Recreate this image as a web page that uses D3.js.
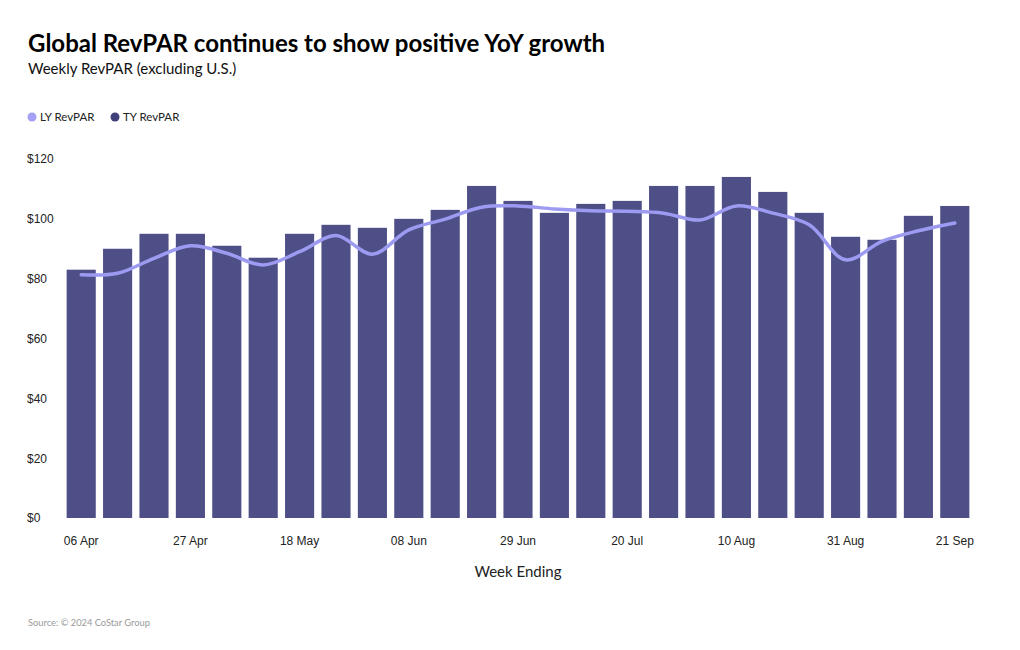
<!DOCTYPE html>
<html>
<head>
<meta charset="utf-8">
<script src="https://cdn.jsdelivr.net/npm/d3@7"></script>
<style>
  html, body { margin: 0; padding: 0; background: #ffffff; }
  svg { display: block; font-family: "Source Sans Pro", "Lato", "Noto Sans", sans-serif; }
</style>
</head>
<body>
<svg id="chart" width="1020" height="650"></svg>
<script>
const weeks = ["06 Apr","13 Apr","20 Apr","27 Apr","04 May","11 May","18 May","25 May","01 Jun","08 Jun","15 Jun","22 Jun","29 Jun","06 Jul","13 Jul","20 Jul","27 Jul","03 Aug","10 Aug","17 Aug","24 Aug","31 Aug","07 Sep","14 Sep","21 Sep"];
const tyRevPAR = [83, 90, 95, 95, 91, 87, 95, 98, 97, 100, 103, 111, 106, 102, 105, 106, 111, 111, 114, 109, 102, 94, 93, 101, 104.3];
const lyRevPAR = [81.3, 81.8, 86.8, 91, 88.5, 84.6, 89, 94.4, 88.2, 96.3, 99.9, 103.9, 104.3, 103.3, 102.7, 102.5, 101.9, 99.6, 104.3, 101.9, 98, 86.3, 92.5, 96, 98.6];
const tickLabels = ["06 Apr","27 Apr","18 May","08 Jun","29 Jun","20 Jul","10 Aug","31 Aug","21 Sep"];
const yTicks = [0, 20, 40, 60, 80, 100, 120];

const svg = d3.select("#chart");
const barColor = "#4f4f88";
const lineColor = "#9d9af2";

const x = d3.scaleBand().domain(weeks).range([63, 973]).paddingInner(0.2).paddingOuter(0.1);
const y = d3.scaleLinear().domain([0, 120]).range([518, 159]);

// Title
svg.append("text").attr("x", 28).attr("y", 52).attr("font-size", 24).attr("font-weight", 700).attr("fill", "#000")
  .text("Global RevPAR continues to show positive YoY growth");
svg.append("text").attr("x", 28).attr("y", 74).attr("font-size", 15).attr("fill", "#111")
  .text("Weekly RevPAR (excluding U.S.)");

// Legend
const legend = [{name: "LY RevPAR", color: "#a3a0f5", x: 32}, {name: "TY RevPAR", color: "#3f3f7a", x: 115}];
legend.forEach(l => {
  svg.append("circle").attr("cx", l.x).attr("cy", 117).attr("r", 4.5).attr("fill", l.color);
  svg.append("text").attr("x", l.x + 8).attr("y", 121).attr("font-size", 11.5).attr("fill", "#222").text(l.name);
});

// Y axis labels
const yAxis = svg.append("g").attr("transform", "translate(27,0)")
  .call(d3.axisLeft(y).tickValues(yTicks).tickFormat(d => "$" + d).tickSize(0));
yAxis.select(".domain").remove();
yAxis.selectAll("text").attr("text-anchor", "start").attr("x", 0).attr("dy", "0.32em")
  .attr("font-size", 12).attr("fill", "#222").style("font-family", "inherit");

// Bars
svg.append("g").selectAll("rect").data(weeks).join("rect")
  .attr("x", d => x(d)).attr("width", x.bandwidth())
  .attr("y", (d, i) => y(tyRevPAR[i])).attr("height", (d, i) => y(0) - y(tyRevPAR[i]))
  .attr("fill", barColor);

// X axis
const xAxis = svg.append("g").attr("transform", "translate(0,518)")
  .call(d3.axisBottom(x).tickValues(tickLabels).tickSize(0).tickPadding(18));
xAxis.select(".domain").remove();
xAxis.selectAll("text").attr("font-size", 12).attr("fill", "#222").style("font-family", "inherit");

// Line
const line = d3.line()
  .x((d, i) => x(weeks[i]) + x.bandwidth() / 2)
  .y(d => y(d))
  .curve(d3.curveCatmullRom.alpha(0.5));
svg.append("path").datum(lyRevPAR).attr("d", line)
  .attr("fill", "none").attr("stroke", lineColor).attr("stroke-width", 3.5)
  .attr("stroke-linecap", "round").attr("stroke-linejoin", "round");

// Axis title
svg.append("text").attr("x", 518).attr("y", 577).attr("text-anchor", "middle")
  .attr("font-size", 15).attr("fill", "#222").text("Week Ending");

// Source
svg.append("text").attr("x", 28).attr("y", 626).attr("font-size", 9.3).attr("fill", "#999")
  .text("Source: © 2024 CoStar Group");
</script>
</body>
</html>
